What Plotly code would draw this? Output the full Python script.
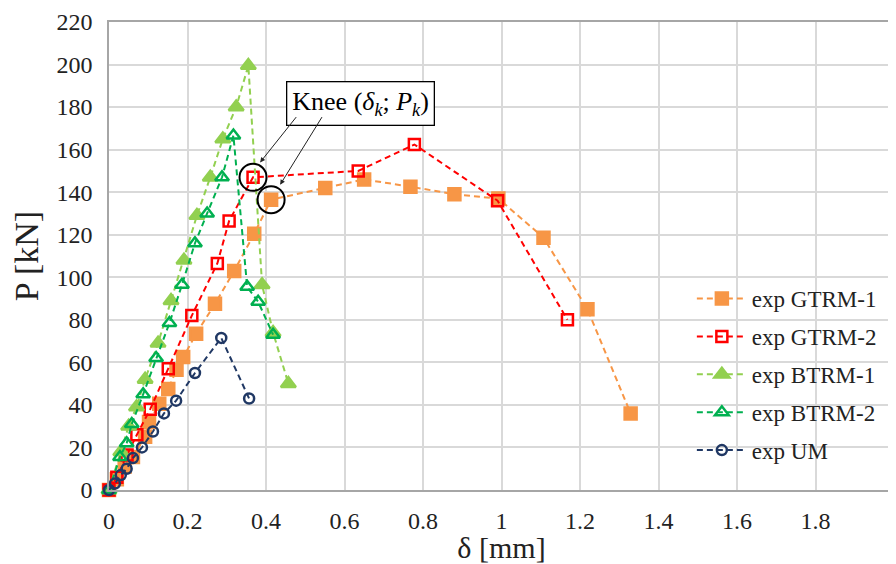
import plotly.graph_objects as go

# ---- data ----
gtrm1_x = [0, 0.02, 0.04, 0.061, 0.092, 0.102, 0.128, 0.151, 0.172, 0.189, 0.222, 0.27, 0.319, 0.37, 0.413, 0.551, 0.65, 0.768, 0.88, 0.992, 1.107, 1.219, 1.329]
gtrm1_y = [0, 5, 11, 15.5, 25, 32, 40.5, 47.5, 56.5, 62.5, 73.5, 87.5, 103, 120.5, 136.5, 142, 146, 142.6, 139, 137, 118.6, 85, 36]
gtrm1_knee = 14

gtrm2_x = [0, 0.02, 0.046, 0.071, 0.105, 0.151, 0.211, 0.276, 0.306, 0.367, 0.635, 0.778, 0.99, 1.168]
gtrm2_y = [0, 6, 16.5, 26, 38, 57, 82, 106.5, 126.5, 147, 150, 162.4, 136, 80]
gtrm2_knee = 9

btrm1_x = [0, 0.03, 0.05, 0.07, 0.092, 0.125, 0.158, 0.191, 0.224, 0.258, 0.29, 0.324, 0.355, 0.39, 0.418, 0.457]
btrm1_y = [0, 18, 30, 39, 52, 69, 89, 108, 129, 147, 165, 180, 199.5, 96.5, 74, 50]

btrm2_x = [0, 0.028, 0.045, 0.058, 0.087, 0.12, 0.154, 0.186, 0.219, 0.25, 0.288, 0.317, 0.352, 0.38, 0.418]
btrm2_y = [0, 15.5, 22, 31, 45, 62, 78.5, 96.5, 116, 130, 147, 166.6, 95.5, 88.5, 73]

um_x = [0, 0.015, 0.03, 0.045, 0.061, 0.084, 0.112, 0.14, 0.171, 0.219, 0.286, 0.357]
um_y = [0, 3, 7, 10, 15, 20, 27.5, 36, 42, 55, 71.5, 43]

x_ticks = [0, 0.2, 0.4, 0.6, 0.8, 1, 1.2, 1.4, 1.6, 1.8, 2]
x_tick_text = ["0", "0.2", "0.4", "0.6", "0.8", "1", "1.2", "1.4", "1.6", "1.8", "2"]
y_ticks = list(range(0, 221, 20))

FONT = "Liberation Serif"
DASH = "6px,4px"

series = [
    ("exp GTRM-1", gtrm1_x, gtrm1_y, "#F79646", "square", 12),
    ("exp GTRM-2", gtrm2_x, gtrm2_y, "#FF0000", "square-open", 11),
    ("exp BTRM-1", btrm1_x, btrm1_y, "#92D050", "triangle-up", 13),
    ("exp BTRM-2", btrm2_x, btrm2_y, "#00B050", "triangle-up-open", 12),
    ("exp UM", um_x, um_y, "#203864", "circle-open", 10),
]

fig = go.Figure()
for name, xs, ys, col, sym, sz in series:
    fig.add_trace(go.Scatter(
        x=xs, y=ys, name=name, mode="lines+markers", legendgroup=name,
        line=dict(color=col, width=2, dash=DASH), cliponaxis=False,
        marker=dict(symbol=sym, size=sz, color=col, line=dict(color=col, width=2.5)),
    ))

# knee circles (black) around knee points
fig.add_trace(go.Scatter(
    x=[gtrm2_x[gtrm2_knee], gtrm1_x[gtrm1_knee]],
    y=[gtrm2_y[gtrm2_knee], gtrm1_y[gtrm1_knee]],
    mode="markers", showlegend=False, hoverinfo="skip",
    marker=dict(symbol="circle-open", size=27, color="black", line=dict(color="black", width=2)),
))

fig.add_annotation(
    x=0.64, y=181.5, xref="x", yref="y", showarrow=False,
    text="Knee (<i>δ</i><sub><i>k</i></sub>; <i>P</i><sub><i>k</i></sub>)",
    font=dict(family=FONT, size=26, color="black"),
    bordercolor="black", borderwidth=1.3, borderpad=5, bgcolor="white",
)
fig.add_annotation(
    x=0.385, y=154, ax=0.48, ay=176, xref="x", yref="y", axref="x", ayref="y",
    showarrow=True, arrowhead=2, arrowsize=1, arrowwidth=1, arrowcolor="#222", text="",
)
fig.add_annotation(
    x=0.436, y=143.5, ax=0.545, ay=176, xref="x", yref="y", axref="x", ayref="y",
    showarrow=True, arrowhead=2, arrowsize=1, arrowwidth=1, arrowcolor="#222", text="",
)

fig.update_layout(
    width=888, height=556,
    margin=dict(l=101, r=2, t=14, b=74, autoexpand=False),
    plot_bgcolor="white", paper_bgcolor="white",
    font=dict(family=FONT, size=24, color="#222"),
    xaxis=dict(
        range=[0, 2], tickvals=x_ticks, ticktext=x_tick_text,
        showgrid=True, gridcolor="#d9d9d9", gridwidth=1.5,
        showline=True, linecolor="#a6a6a6", linewidth=1.5, mirror=True,
        zeroline=False, ticks="", automargin=False, ticklabelstandoff=8,
        ticklabeloverflow="allow",
        title=dict(text="δ [mm]", font=dict(family=FONT, size=30, color="#222"), standoff=2),
        tickfont=dict(family=FONT, size=24, color="#222"),
    ),
    yaxis=dict(
        range=[0, 220], tickvals=y_ticks,
        showgrid=True, gridcolor="#d9d9d9", gridwidth=1.5,
        showline=True, linecolor="#a6a6a6", linewidth=1.5, mirror=True,
        zeroline=False, ticks="", automargin=False, ticklabelstandoff=10,
        ticklabeloverflow="allow",
        title=dict(text="P [kN]", font=dict(family=FONT, size=34, color="#222"), standoff=10),
        tickfont=dict(family=FONT, size=24, color="#222"),
    ),
    legend=dict(
        x=0.7425, y=0.455, xanchor="left", yanchor="top",
        bgcolor="rgba(0,0,0,0)", borderwidth=0,
        font=dict(family=FONT, size=23, color="#222"),
        tracegroupgap=5, itemwidth=50,
    ),
    showlegend=True,
)

fig.write_html("out.html")
